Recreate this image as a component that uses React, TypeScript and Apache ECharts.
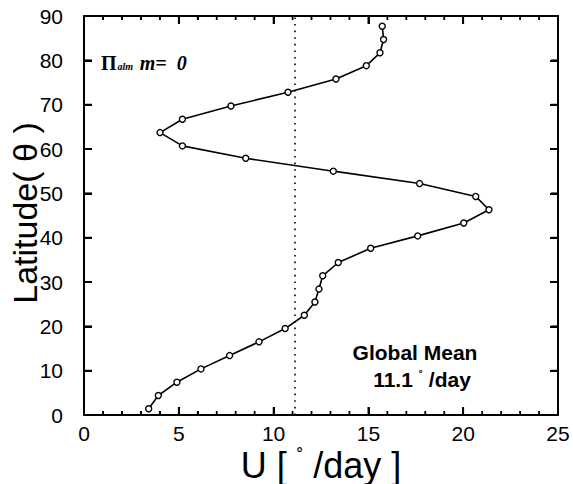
import React, { useEffect, useRef } from "react";
import * as echarts from "echarts";

// Zonal-mean angular velocity U (deg/day) at each latitude (deg)
const latitudes = [
  1.4, 4.4, 7.4, 10.4, 13.4, 16.5, 19.5, 22.5, 25.5, 28.4, 31.4, 34.4, 37.6,
  40.4, 43.3, 46.3, 49.3, 52.2, 55.0, 57.9, 60.7, 63.7, 66.7, 69.7, 72.8, 75.8,
  78.8, 81.7, 84.7, 87.7,
];
const uValues = [
  3.41, 3.92, 4.9, 6.17, 7.68, 9.23, 10.61, 11.62, 12.18, 12.39, 12.59, 13.41,
  15.12, 17.6, 20.03, 21.36, 20.66, 17.7, 13.15, 8.53, 5.19, 4.01, 5.19, 7.75,
  10.76, 13.29, 14.89, 15.61, 15.8, 15.73,
];
const globalMean = 11.1;
const xTicks = [0, 5, 10, 15, 20, 25];
const xMinorPerMajor = 5;
const yTicks = [0, 10, 20, 30, 40, 50, 60, 70, 80, 90];

const SANS = "'Liberation Sans', Arial, Helvetica, sans-serif";
const SERIF = "'Liberation Serif', 'Times New Roman', serif";

const textGraphics = [
  {
    type: "text",
    x: 321,
    y: 465,
    style: {
      text: "U [ {deg|˚} /day ]",
      font: `36px ${SANS}`,
      fill: "#000",
      textAlign: "center",
      textVerticalAlign: "middle",
      rich: { deg: { fontFamily: SANS, fontSize: 20, verticalAlign: "top", color: "#000" } },
    },
  },
  {
    type: "text",
    x: 25,
    y: 213,
    rotation: Math.PI / 2,
    style: {
      text: "Latitude( θ )",
      font: `34px ${SANS}`,
      fill: "#000",
      textAlign: "center",
      textVerticalAlign: "middle",
    },
  },
  {
    type: "text",
    x: 415,
    y: 352,
    style: {
      text: "Global Mean",
      font: `bold 21px ${SANS}`,
      fill: "#000",
      textAlign: "center",
      textVerticalAlign: "middle",
    },
  },
  {
    type: "text",
    x: 422,
    y: 379,
    style: {
      text: "11.1 {deg|˚} /day",
      font: `bold 21px ${SANS}`,
      fill: "#000",
      textAlign: "center",
      textVerticalAlign: "middle",
      rich: { deg: { fontFamily: SANS, fontSize: 13, fontWeight: "bold", verticalAlign: "top", color: "#000" } },
    },
  },
  {
    type: "text",
    x: 101,
    y: 63,
    style: {
      text: "{pi|Π}{sub|alm}  {m|m=  0}",
      textVerticalAlign: "middle",
      rich: {
        pi: { fontFamily: SERIF, fontSize: 20, fontWeight: "bold", color: "#000" },
        sub: { fontFamily: SERIF, fontSize: 10, fontStyle: "italic", fontWeight: "bold", color: "#000", padding: [7, 0, 0, 1] },
        m: { fontFamily: SERIF, fontSize: 20, fontStyle: "italic", fontWeight: "bold", color: "#000" },
      },
    },
  },
];

export default function App() {
  const ref = useRef<HTMLDivElement>(null);

  useEffect(() => {
    if (!ref.current) return;
    const chart = echarts.init(ref.current, null, { renderer: "svg" });

    const axisLine = { show: true, onZero: false, lineStyle: { color: "#000", width: 2 } };
    const tick = { show: true, inside: true, length: 8, lineStyle: { color: "#000", width: 2 } };
    const xCommon = {
      type: "value",
      min: xTicks[0],
      max: xTicks[xTicks.length - 1],
      interval: xTicks[1] - xTicks[0],
      axisLine,
      axisTick: tick,
      minorTick: { show: true, splitNumber: xMinorPerMajor, length: 4, lineStyle: { color: "#000" } },
      splitLine: { show: false },
      minorSplitLine: { show: false },
    };
    const yCommon = {
      type: "value",
      min: yTicks[0],
      max: yTicks[yTicks.length - 1],
      interval: yTicks[1] - yTicks[0],
      axisLine,
      axisTick: tick,
      splitLine: { show: false },
    };

    chart.setOption({
      animation: false,
      backgroundColor: "#fff",
      grid: { left: 84, right: 15, top: 16, bottom: 69, containLabel: false },
      xAxis: [
        {
          ...xCommon,
          position: "bottom",
          axisLabel: { color: "#000", fontSize: 21, fontFamily: SANS, margin: 8 },
        },
        { ...xCommon, position: "top", axisLabel: { show: false } },
      ],
      yAxis: [
        {
          ...yCommon,
          position: "left",
          axisLabel: { color: "#000", fontSize: 21, fontFamily: SANS, margin: 21 },
        },
        { ...yCommon, position: "right", axisLabel: { show: false } },
      ],
      series: [
        {
          type: "line",
          data: latitudes.map((lat, i) => [uValues[i], lat]),
          symbol: "circle",
          symbolSize: 6,
          showAllSymbol: true,
          lineStyle: { color: "#000", width: 1.6 },
          itemStyle: { color: "#fff", borderColor: "#000", borderWidth: 1.4 },
          markLine: {
            silent: true,
            symbol: "none",
            label: { show: false },
            lineStyle: { color: "#000", width: 1.6, type: [1.6, 5] },
            data: [{ xAxis: globalMean }],
          },
        },
      ],
    });

    // Inward frame ticks on all four sides, placed through the axis scales
    const toX = (v: number) => chart.convertToPixel({ xAxisIndex: 0 }, v) as number;
    const toY = (v: number) => chart.convertToPixel({ yAxisIndex: 0 }, v) as number;
    const xLeft = toX(xTicks[0]);
    const xRight = toX(xTicks[xTicks.length - 1]);
    const yBottom = toY(yTicks[0]);
    const yTop = toY(yTicks[yTicks.length - 1]);
    const ticks: any[] = [];
    const mkLine = (x1: number, y1: number, x2: number, y2: number) => ({
      type: "line",
      silent: true,
      z: 10,
      shape: { x1, y1, x2, y2 },
      style: { stroke: "#000", lineWidth: 1.8 },
    });
    const step = (xTicks[1] - xTicks[0]) / xMinorPerMajor;
    for (let i = 0; i < xTicks.length - 1; i++) {
      for (let k = 0; k < xMinorPerMajor; k++) {
        if (i === 0 && k === 0) continue;
        const px = toX(xTicks[i] + k * step);
        const len = k === 0 ? 8 : 4;
        ticks.push(mkLine(px, yBottom, px, yBottom - len));
        ticks.push(mkLine(px, yTop, px, yTop + len));
      }
    }
    yTicks.slice(1, -1).forEach((v) => {
      const py = toY(v);
      ticks.push(mkLine(xLeft, py, xLeft + 8, py));
      ticks.push(mkLine(xRight, py, xRight - 7, py));
    });

    chart.setOption({ graphic: [...textGraphics, ...ticks] });

    return () => chart.dispose();
  }, []);

  return (
    <div
      ref={ref}
      style={{ width: 573, height: 484, position: "absolute", left: 0, top: 0 }}
    />
  );
}
